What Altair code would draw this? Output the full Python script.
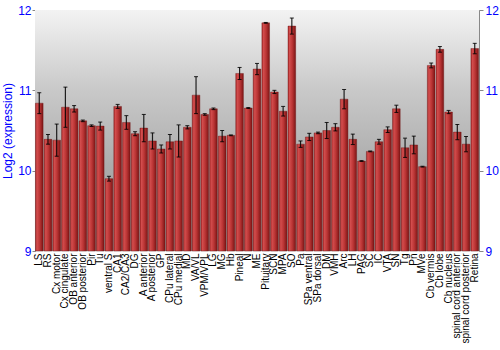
import altair as alt
import pandas as pd

regions = ["LS", "RS", "Cx motor", "Cx cingulate", "OB anterior", "OB posterior", "Pir", "Tu",
           "ventral S", "CA1", "CA2/CA3", "DG", "A anterior", "A posterior", "GP", "CPu lateral",
           "CPu medial", "MD", "VA/VL", "VPM/VPL", "LG", "MG", "Hb", "Pineal", "N", "ME",
           "Pituitary", "SCN", "MPA", "SO", "Pa", "SPa ventral", "SPa dorsal", "DM", "VMH",
           "Arc", "LH", "PAG", "SC", "IC", "VTA", "SN", "Tg", "Pn", "MVe", "Cb vermis",
           "Cb lobe", "Cb nucleus", "spinal cord anterior", "spinal cord posterior", "Retina"]

means = [10.84, 10.39, 10.38, 10.79, 10.77, 10.62, 10.56, 10.555,
         9.90, 10.80, 10.60, 10.46, 10.53, 10.37, 10.27, 10.36,
         10.37, 10.54, 10.94, 10.70, 10.77, 10.43, 10.44, 11.21, 10.78, 11.265,
         11.84, 10.98, 10.74, 11.80, 10.33, 10.42, 10.47, 10.50, 10.54,
         10.89, 10.39, 10.12, 10.24, 10.36, 10.51, 10.77, 10.285, 10.32, 10.05, 11.31,
         11.51, 10.73, 10.48, 10.33, 11.52]

errors = [0.13, 0.06, 0.20, 0.25, 0.04, 0.01, 0.01, 0.05,
          0.03, 0.025, 0.085, 0.025, 0.17, 0.10, 0.05, 0.09,
          0.20, 0.02, 0.23, 0.01, 0.01, 0.07, 0.005, 0.075, 0.005, 0.07,
          0.005, 0.02, 0.06, 0.10, 0.04, 0.045, 0.01, 0.10, 0.045,
          0.12, 0.065, 0.005, 0.005, 0.03, 0.035, 0.045, 0.12, 0.11, 0.005, 0.03,
          0.035, 0.02, 0.095, 0.095, 0.065]

df = pd.DataFrame({"region": regions, "mean": means, "err": errors})
df["lo"] = df["mean"] - df["err"]
df["hi"] = df["mean"] + df["err"]

yscale = alt.Scale(domain=[9, 12], nice=False, zero=False)
xenc = alt.X("region:N", sort=regions,
             scale=alt.Scale(paddingInner=0.12, paddingOuter=0.05),
             axis=alt.Axis(title=None, labelAngle=-90, labelFontSize=10, labelColor="black",
                           labelFont="Liberation Sans", labelPadding=2, ticks=False,
                           domain=False, labelOverlap=False, labelLimit=0))

bg = alt.Chart(pd.DataFrame({"a": [0]})).mark_rect(
    fill=alt.LinearGradient(gradient="linear", x1=0, x2=0, y1=0, y2=1,
                            stops=[alt.GradientStop(offset=0, color="#f3f3f3"),
                                   alt.GradientStop(offset=0.33, color="#c9c9c9"),
                                   alt.GradientStop(offset=0.66, color="#ababab"),
                                   alt.GradientStop(offset=1, color="#979797")])
).encode(x=alt.value(0), x2=alt.value("width"), y=alt.value(0), y2=alt.value("height"))

bars = alt.Chart(df).mark_bar(
    fill=alt.LinearGradient(gradient="linear", x1=0, x2=1, y1=0, y2=0,
                            stops=[alt.GradientStop(offset=0, color="#a82828"),
                                   alt.GradientStop(offset=0.2, color="#d24d4d"),
                                   alt.GradientStop(offset=0.55, color="#bb3535"),
                                   alt.GradientStop(offset=1, color="#7c1515")]),
    stroke="#6e1515", strokeWidth=0.4
).encode(
    x=xenc,
    y=alt.Y("mean:Q", scale=yscale,
            axis=alt.Axis(title="Log2 (expression)", titleColor="blue", titleFontSize=12,
                          titleFont="Liberation Sans", titleFontWeight="normal", titlePadding=3,
                          labelColor="blue", labelFontSize=12, labelFont="Liberation Sans",
                          values=[9, 10, 11, 12], tickSize=3, labelPadding=1,
                          domainColor="#888888", tickColor="#888888",
                          gridColor="white", gridOpacity=0.85, orient="left")),
    y2=alt.datum(9)
)

rules = alt.Chart(df).mark_rule(color="black", strokeWidth=1.2, opacity=0.85).encode(
    x=xenc,
    y=alt.Y("lo:Q", scale=yscale,
            axis=alt.Axis(title=None, orient="right", labelColor="blue", labelFontSize=12,
                          labelFont="Liberation Sans", values=[9, 10, 11, 12], tickSize=4,
                          labelPadding=2, domainColor="#888888", tickColor="#888888",
                          grid=False)),
    y2="hi:Q"
)

cap_lo = alt.Chart(df).mark_tick(color="black", size=4, thickness=1, opacity=0.85).encode(
    x=xenc, y=alt.Y("lo:Q", scale=yscale, axis=None))
cap_hi = alt.Chart(df).mark_tick(color="black", size=4, thickness=1, opacity=0.85).encode(
    x=xenc, y=alt.Y("hi:Q", scale=yscale, axis=None))

chart = alt.layer(bg, bars, rules, cap_lo, cap_hi).resolve_axis(y="independent").properties(
    width=444, height=241,
    padding={"left": 35, "top": 10, "right": 21, "bottom": 99},
    autosize=alt.AutoSizeParams(type="none"),
    background="white"
).configure_view(stroke="#888888", strokeWidth=1)

chart.save("out.html", embed_options={"renderer": "svg", "actions": False})
